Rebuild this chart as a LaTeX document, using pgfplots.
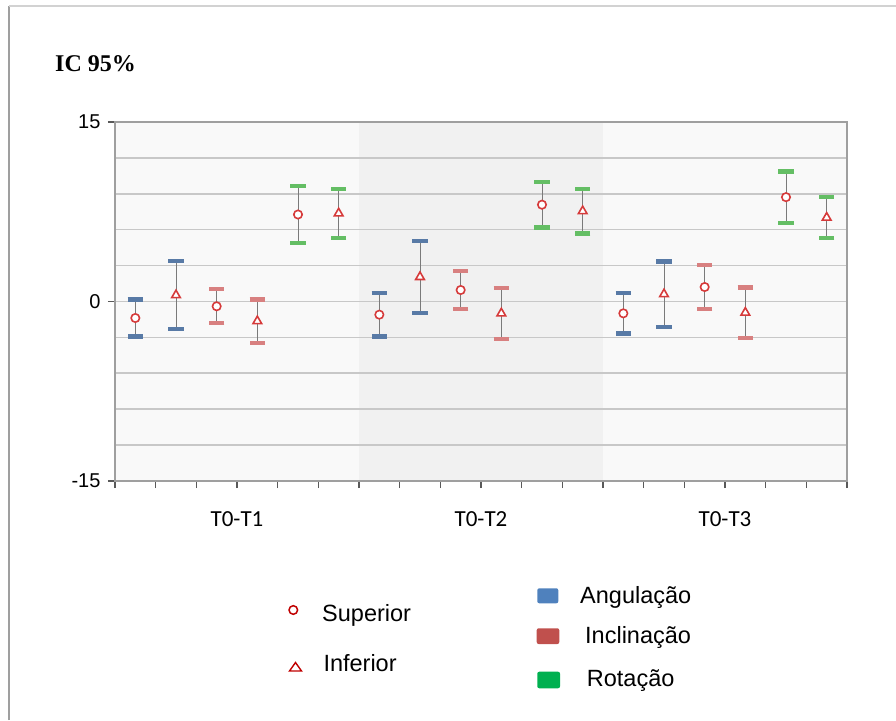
\documentclass[border=0pt]{standalone}
\usepackage{fontspec}
\setmainfont{Liberation Sans}
\newfontfamily\carlito{Carlito}
\newfontfamily\timesf{Liberation Serif}
\usepackage{pgfplots}
\usepackage{pgfplotstable}
\pgfplotsset{compat=1.18}
\usetikzlibrary{plotmarks}

\definecolor{capblue}{RGB}{88,122,166}
\definecolor{capred}{RGB}{216,128,128}
\definecolor{capgreen}{RGB}{100,190,100}
\definecolor{mkred}{RGB}{214,58,58}
\definecolor{bgout}{RGB}{249,249,249}
\definecolor{bgmid}{RGB}{241,241,241}
\definecolor{gridc}{RGB}{200,200,200}
\definecolor{legblue}{RGB}{79,129,189}
\definecolor{legred}{RGB}{192,80,77}
\definecolor{leggreen}{RGB}{0,176,80}
\definecolor{legmk}{RGB}{192,0,0}

% Angulacao
\pgfplotstableread{
x y e
0.5 -1.38 1.55
6.5 -1.10 1.82
12.5 -0.99 1.69
}\angsup
\pgfplotstableread{
x y e
1.5 0.53 2.84
7.5 2.05 2.99
13.5 0.61 2.73
}\anginf
% Inclinacao
\pgfplotstableread{
x y e
2.5 -0.40 1.43
8.5 0.96 1.60
14.5 1.21 1.82
}\incsup
\pgfplotstableread{
x y e
3.5 -1.64 1.81
9.5 -0.99 2.13
15.5 -0.93 2.10
}\incinf
% Rotacao
\pgfplotstableread{
x y e
4.5 7.27 2.40
10.5 8.09 1.91
16.5 8.72 2.14
}\rotsup
\pgfplotstableread{
x y e
5.5 7.37 2.05
11.5 7.55 1.87
17.5 7.01 1.69
}\rotinf

\pgfplotsset{
  ci/.style={only marks, color=mkred,
    /pgfplots/error bars/y dir=both,
    /pgfplots/error bars/y explicit,
    /pgfplots/error bars/error bar style={line width=1pt, color=black!52},
    /pgfplots/error bars/error mark=|,
    /pgfplots/error bars/error mark options={line width=4.2pt, color=#1, mark size=7.6pt}},
  sup/.style={mark=*, mark size=4.2pt, mark options={fill=white, draw=mkred, line width=1.6pt}},
  inf/.style={mark=triangle*, mark size=5pt, mark options={fill=white, draw=mkred, line width=1.6pt}},
}

\begin{document}
\begin{tikzpicture}
\path[use as bounding box] (0,0) rectangle (896pt,720pt);
\draw[color=gray!75, line width=1.2pt] (9pt,0) -- (9pt,714pt);
\draw[color=gray!35, line width=1.2pt] (9pt,714pt) -- (896pt,714pt);

\node[anchor=base west, inner sep=0pt, font=\timesf\bfseries\fontsize{24}{28}\selectfont] at (55pt,648pt) {IC 95\%};

% plot-area background bands
\fill[bgout] (115pt,239pt) rectangle (359pt,598pt);
\fill[bgmid] (359pt,239pt) rectangle (603pt,598pt);
\fill[bgout] (603pt,239pt) rectangle (847pt,598pt);

\begin{axis}[
  at={(115pt,239pt)}, anchor=south west,
  scale only axis, width=732pt, height=359pt,
  xmin=0, xmax=18, ymin=-15, ymax=15,
  axis line style={draw=gray!75, line width=2.5pt},
  tick pos=left,
  xtick={0,1,...,18}, xticklabels={},
  extra x ticks={3,9,15},
  extra x tick labels={T0-T1,T0-T2,T0-T3},
  extra x tick style={major tick length=0pt, grid=none,
     xticklabel style={yshift=-27pt}},
  ytick={-15,0,15}, yticklabels={-15,0,15},
  minor ytick={-12,-9,-6,-3,3,6,9,12},
  ymajorgrids, yminorgrids,
  major grid style={gridc, line width=1.6pt},
  minor grid style={gridc, line width=1.6pt},
  tick align=outside, major tick length=7pt, minor tick length=0pt,
  tick style={line width=1.2pt, color=gray!70!black},
  yticklabel style={font=\fontsize{20}{24}\selectfont, xshift=-4pt},
  xticklabel style={font=\carlito\fontsize{23}{27}\selectfont},
  clip=false,
]
\addplot[sup, ci=capblue] table[x=x, y=y, y error=e] {\angsup};
\addplot[inf, ci=capblue] table[x=x, y=y, y error=e] {\anginf};
\addplot[sup, ci=capred] table[x=x, y=y, y error=e] {\incsup};
\addplot[inf, ci=capred] table[x=x, y=y, y error=e] {\incinf};
\addplot[sup, ci=capgreen] table[x=x, y=y, y error=e] {\rotsup};
\addplot[inf, ci=capgreen] table[x=x, y=y, y error=e] {\rotinf};
\end{axis}

% legend
\draw[legmk, line width=1.5pt] (293.3pt,110pt) circle (4.3pt);
\draw[legmk, line width=1.4pt, line join=miter] (289.5pt,49pt) -- (295.5pt,57.5pt) -- (301.5pt,49pt) -- cycle;
\node[anchor=base west, inner sep=0pt, font=\fontsize{23.5}{27}\selectfont] at (322pt,98.3pt) {Superior};
\node[anchor=base west, inner sep=0pt, font=\fontsize{23.5}{27}\selectfont] at (323.3pt,48.3pt) {Inferior};

\fill[legblue, rounded corners=2pt] (537.3pt,116.7pt) rectangle (558.3pt,131.7pt);
\fill[legred, rounded corners=2pt] (536.7pt,76pt) rectangle (559.3pt,91.7pt);
\fill[leggreen, rounded corners=2pt] (537.3pt,31.7pt) rectangle (560pt,48.3pt);
\node[anchor=base west, inner sep=0pt, font=\fontsize{23.5}{27}\selectfont] at (580pt,116.7pt) {Angulação};
\node[anchor=base west, inner sep=0pt, font=\fontsize{23.5}{27}\selectfont] at (585pt,76.7pt) {Inclinação};
\node[anchor=base west, inner sep=0pt, font=\fontsize{23.5}{27}\selectfont] at (586.7pt,33.3pt) {Rotação};
\end{tikzpicture}
\end{document}
